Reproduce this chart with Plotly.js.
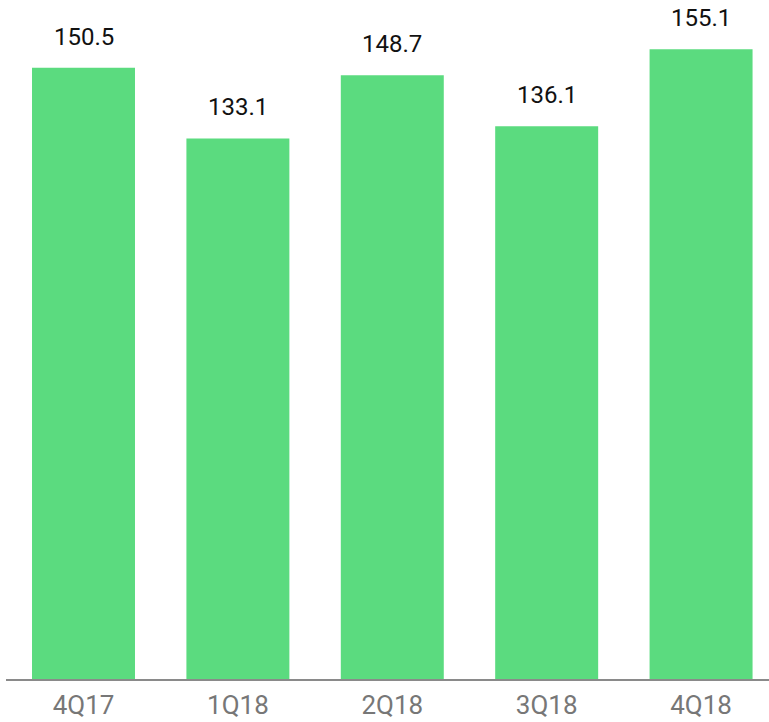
<!DOCTYPE html>
<html><head><meta charset="utf-8">
<script src="https://cdn.plot.ly/plotly-3.0.1.min.js"></script>
<style>html,body{margin:0;padding:0;background:#fff}#chart{width:769px;height:722px}</style>
</head><body><div id="chart"></div>
<script>
var categories = ["4Q17", "1Q18", "2Q18", "3Q18", "4Q18"];
var values = [150.5, 133.1, 148.7, 136.1, 155.1];
var labels = ["150.5", "133.1", "148.7", "136.1", "155.1"];

var FONT = "Roboto, sans-serif";
var trace = {
  type: "bar",
  x: categories,
  y: values,
  marker: {color: "#5bdb7f"},
  hoverinfo: "x+y"
};
var annotations = categories.map(function(c, i){
  return {x: c, y: values[i], text: labels[i], showarrow: false, yanchor: "bottom", yshift: 15,
          font: {family: FONT, size: 24, color: "#111"}};
});
var layout = {
  width: 769, height: 722,
  margin: {l: 6, r: 0, t: 0, b: 43},
  paper_bgcolor: "#fff", plot_bgcolor: "#fff",
  bargap: 0.333,
  showlegend: false,
  xaxis: {type: "category", range: [-0.502, 4.44], showline: true, linecolor: "#8a8a8a", linewidth: 1.5,
          ticks: "outside", ticklen: 2, tickcolor: "rgba(0,0,0,0)", showgrid: false, zeroline: false,
          tickfont: {family: FONT, size: 26, color: "#777"}},
  yaxis: {range: [0, 167.2], visible: false, showgrid: false, zeroline: false},
  annotations: annotations
};
Plotly.newPlot("chart", [trace], layout, {displayModeBar: false, staticPlot: true});
</script></body></html>
